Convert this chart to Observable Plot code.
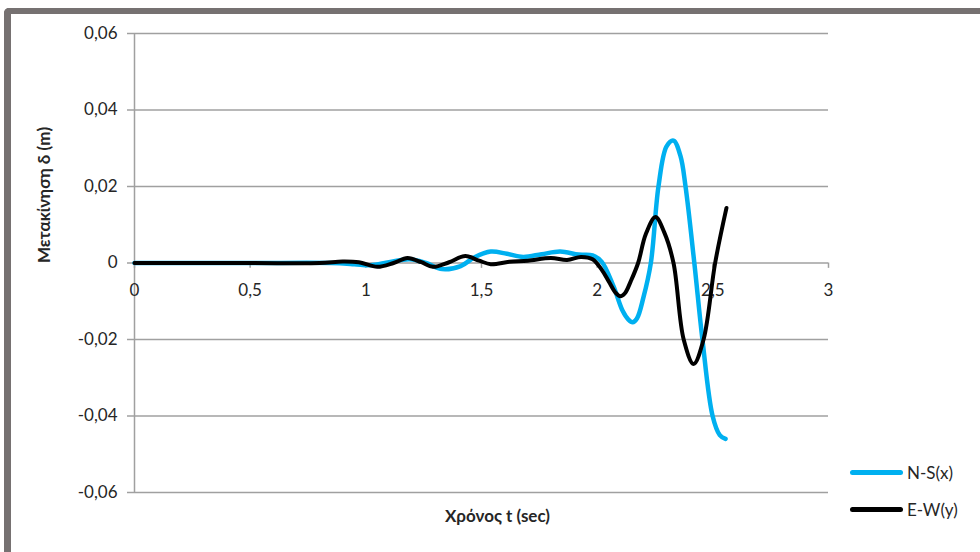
<!DOCTYPE html>
<html>
<head>
<meta charset="utf-8">
<script src="https://cdn.jsdelivr.net/npm/d3@7"></script>
<script src="https://cdn.jsdelivr.net/npm/@observablehq/plot@0.6"></script>
<style>
  html, body { margin: 0; padding: 0; background: #fff; }
  #wrap { position: relative; width: 980px; height: 552px; overflow: hidden; font-family: Lato, "Open Sans", sans-serif; }
  #frame { position: absolute; left: 4px; top: 8px; width: 1000px; height: 600px; border-top: 6px solid #767171; border-left: 7px solid #767171; border-top-left-radius: 5px; box-sizing: border-box; pointer-events: none; }
  .leg { position: absolute; left: 850px; display: flex; align-items: center; font-size: 17px; color: #262626; }
  .sw { width: 53px; height: 5px; border-radius: 3px; margin-right: 4px; }
</style>
</head>
<body>
<div id="wrap"><div id="chart"></div><div id="frame"></div></div>
<script>
// Series names and colours
const seriesNames = ["N-S(x)", "E-W(y)"];
const seriesColors = ["#00B0F0", "#000000"];

// N-S(x) series
const tNS = [0, 0.5, 0.85, 0.95, 1.02, 1.1, 1.19, 1.26, 1.33, 1.41, 1.47, 1.54, 1.61, 1.68, 1.76, 1.84, 1.92, 1.98, 2.02, 2.07, 2.11, 2.135, 2.153, 2.172, 2.2, 2.232, 2.265, 2.3, 2.33, 2.36, 2.382, 2.42, 2.455, 2.499, 2.53, 2.555];
const vNS = [0, 0, 0, -0.0003, -0.0006, 0.0002, 0.001, 0, -0.0016, -0.0008, 0.0015, 0.003, 0.0024, 0.0016, 0.0023, 0.003, 0.0022, 0.002, 0.0003, -0.006, -0.0125, -0.0148, -0.0155, -0.0145, -0.009, 0, 0.02, 0.0305, 0.032, 0.028, 0.02, 0, -0.02, -0.04, -0.045, -0.046];

// E-W(y) series
const tEW = [0, 0.5, 0.8, 0.9, 0.97, 1.05, 1.12, 1.18, 1.24, 1.29, 1.36, 1.43, 1.49, 1.54, 1.62, 1.7, 1.8, 1.87, 1.93, 1.98, 2.02, 2.05, 2.08, 2.1, 2.12, 2.145, 2.177, 2.21, 2.252, 2.29, 2.33, 2.374, 2.417, 2.46, 2.51, 2.559];
const vEW = [0, 0, 0, 0.0004, 0.0002, -0.001, 0, 0.0013, 0.0002, -0.001, 0.0002, 0.0018, 0.0006, -0.0003, 0.0003, 0.0006, 0.0013, 0.0008, 0.0016, 0.001, -0.0018, -0.0048, -0.0078, -0.0087, -0.0079, -0.0048, 0, 0.0075, 0.012, 0.008, 0, -0.02, -0.0264, -0.02, 0, 0.0144];

// Tick values and axis titles
const xTicks = [0, 0.5, 1, 1.5, 2, 2.5, 3];
const yTicks = [-0.06, -0.04, -0.02, 0, 0.02, 0.04, 0.06];
const xTitle = "Χρόνος t (sec)";
const yTitle = "Μετακίνηση δ (m)";

const fmt = d => String(d).replace(".", ",");
const ns = tNS.map((t, i) => ({t, v: vNS[i]}));
const ew = tEW.map((t, i) => ({t, v: vEW[i]}));
const grid = "#a0a0a0";

const plot = Plot.plot({
  width: 980,
  height: 552,
  marginLeft: 134,
  marginRight: 152,
  marginTop: 33,
  marginBottom: 60,
  style: {fontFamily: "Lato, 'Open Sans', sans-serif", fontSize: "17px", color: "#262626", background: "transparent"},
  x: {domain: [0, 3], axis: null},
  y: {domain: [-0.06, 0.06]},
  marks: [
    Plot.gridY(yTicks, {stroke: grid, strokeOpacity: 1, strokeWidth: 1.5}),
    Plot.ruleX([0], {stroke: grid, strokeWidth: 1.5}),
    Plot.axisY(yTicks, {tickFormat: fmt, tickSize: 7, tickPadding: 10, stroke: grid, strokeWidth: 1.5, label: null, fontSize: 17}),
    Plot.ruleX(xTicks, {x: d => d, y1: 0, y2: -0.0014, stroke: grid, strokeWidth: 1.5}),
    Plot.text(xTicks, {x: d => d, y: 0, dy: 28, text: fmt, fontSize: 17, fill: "#262626"}),
    Plot.line(ns, {x: "t", y: "v", stroke: seriesColors[0], strokeWidth: 4.5, curve: "catmull-rom"}),
    Plot.line(ew, {x: "t", y: "v", stroke: seriesColors[1], strokeWidth: 4, curve: "catmull-rom"}),
    Plot.text([xTitle], {frameAnchor: "bottom", dx: 16, dy: 29, text: d => d, fontWeight: "bold", fontSize: 17, fill: "#262626"}),
    Plot.text([yTitle], {frameAnchor: "left", dx: -90, text: d => d, rotate: -90, fontWeight: "bold", fontSize: 17, fill: "#262626"})
  ]
});
document.getElementById("chart").appendChild(plot);

const wrap = document.getElementById("wrap");
const legTops = [472, 509];
seriesNames.forEach((name, i) => {
  const row = document.createElement("div");
  row.className = "leg";
  row.style.top = (legTops[i] - 11) + "px";
  row.style.height = "22px";
  const sw = document.createElement("div");
  sw.className = "sw";
  sw.style.background = seriesColors[i];
  const tx = document.createElement("span");
  tx.textContent = name;
  row.appendChild(sw);
  row.appendChild(tx);
  wrap.appendChild(row);
});
</script>
</body>
</html>
